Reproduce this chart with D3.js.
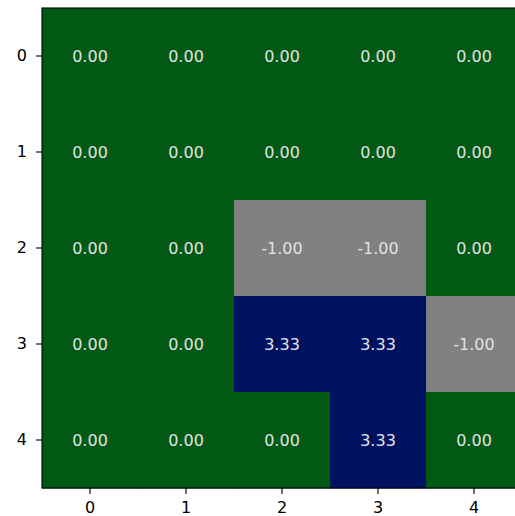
<!DOCTYPE html>
<html><head><meta charset="utf-8">
<script src="https://cdn.jsdelivr.net/npm/d3@7"></script>
<style>body{margin:0;background:#fff;} svg{display:block;}</style>
</head><body>
<script>
const rows = [0, 1, 2, 3, 4];
const cols = [0, 1, 2, 3, 4];
const values = [
  [0, 0, 0, 0, 0],
  [0, 0, 0, 0, 0],
  [0, 0, -1, -1, 0],
  [0, 0, 3.33, 3.33, -1],
  [0, 0, 0, 3.33, 0]
];
const colorDomain = [-1, 0, 3.33];
const colorRange = ["#808080", "#005a13", "#00125f"];

const W = 515, H = 516;
const m = {left: 42, top: 8};
const size = 480;
const svg = d3.select("body").append("svg").attr("width", W).attr("height", H);
const x = d3.scaleBand().domain(cols).range([m.left, m.left + size]);
const y = d3.scaleBand().domain(rows).range([m.top, m.top + size]);
const color = d3.scaleOrdinal().domain(colorDomain).range(colorRange);

const cells = [];
values.forEach((r, i) => r.forEach((v, j) => cells.push({i, j, v})));

svg.append("g").selectAll("rect").data(cells).join("rect")
  .attr("x", d => x(d.j)).attr("y", d => y(d.i))
  .attr("width", x.bandwidth()+0.5).attr("height", y.bandwidth()+0.5)
  .attr("fill", d => color(d.v));

svg.append("g").selectAll("text").data(cells).join("text")
  .attr("x", d => x(d.j) + x.bandwidth()/2)
  .attr("y", d => y(d.i) + y.bandwidth()/2)
  .attr("text-anchor", "middle").attr("dominant-baseline", "central")
  .attr("font-family", "DejaVu Sans").attr("font-size", 16)
  .attr("fill", "#e2e2e2")
  .text(d => d.v.toFixed(2));

const fmt = d => String(d);
const xa = svg.append("g").attr("transform", `translate(0,${m.top+size})`)
  .call(d3.axisBottom(x).tickSize(6).tickPadding(8).tickFormat(fmt));
const ya = svg.append("g").attr("transform", `translate(${m.left},0)`)
  .call(d3.axisLeft(y).tickSize(6).tickPadding(9).tickFormat(fmt));
[xa, ya].forEach(a => {
  a.selectAll("text").attr("font-family", "DejaVu Sans").attr("font-size", 16).attr("fill", "#000");
  a.selectAll("line").attr("stroke", "#000").attr("stroke-width", 1.1);
  a.select(".domain").remove();
});
svg.append("rect").attr("x", m.left).attr("y", m.top).attr("width", size).attr("height", size)
  .attr("fill", "none").attr("stroke", "#000").attr("stroke-width", 1.1);
</script>
</body></html>
